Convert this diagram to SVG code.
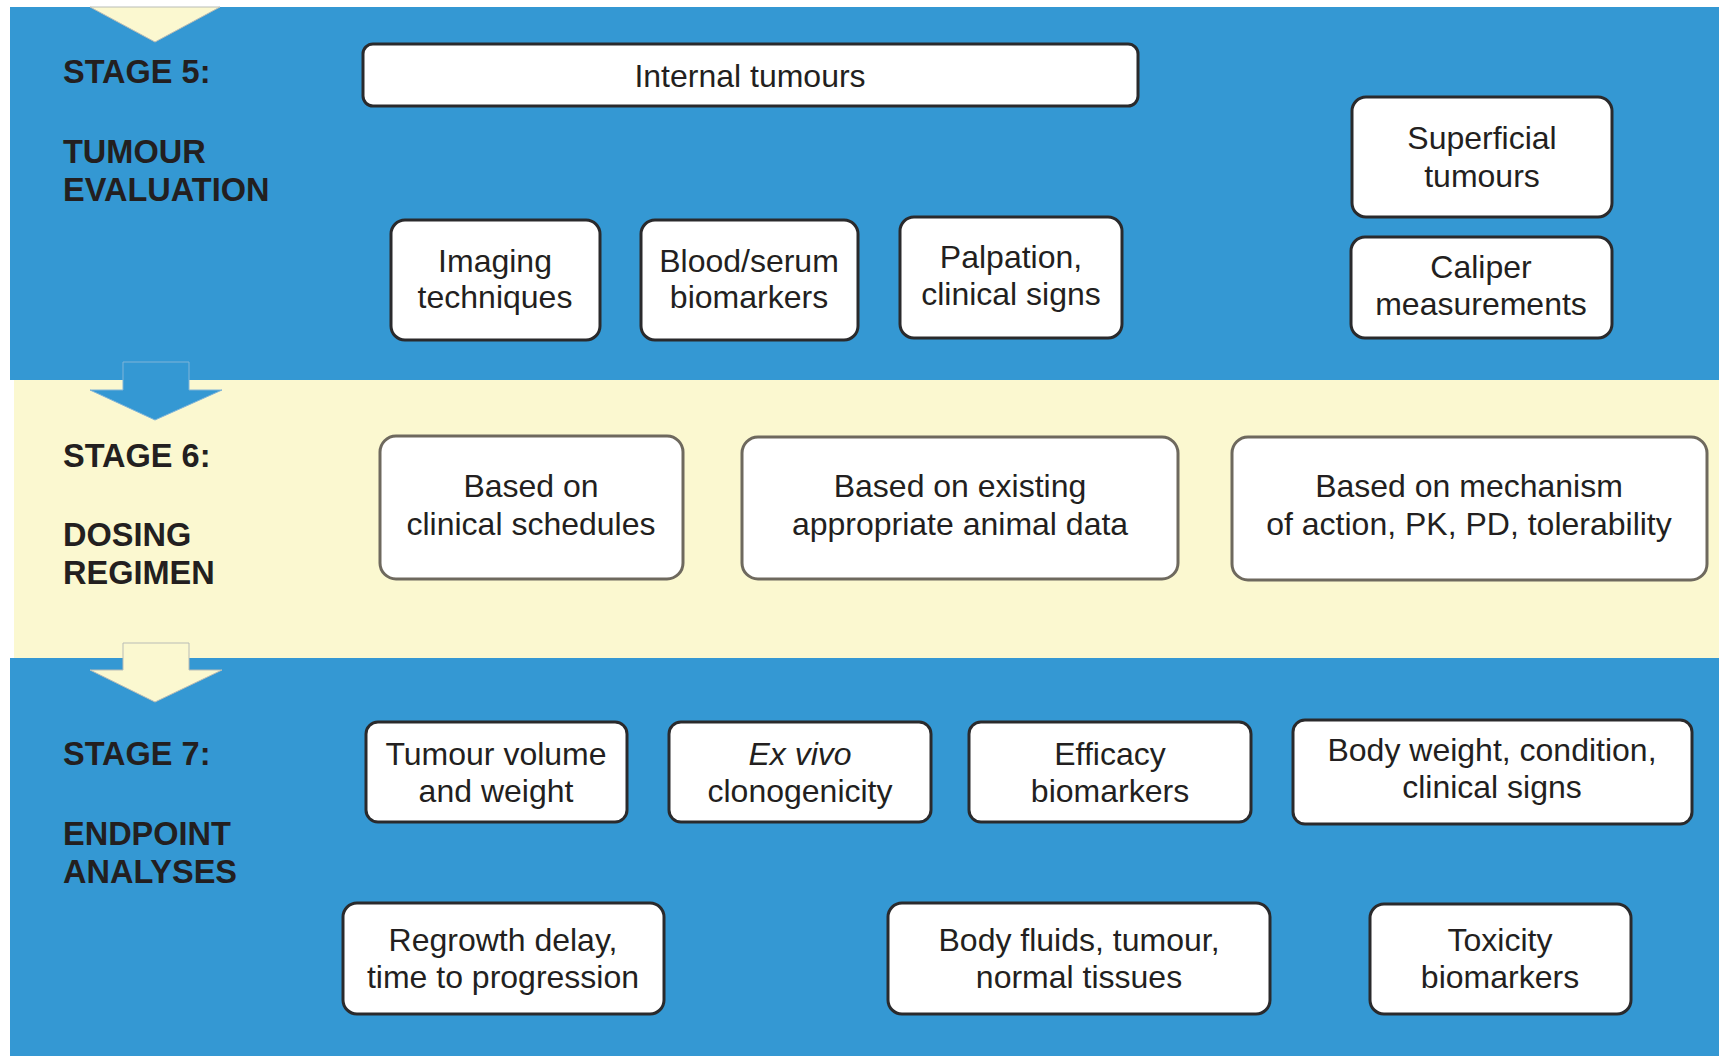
<svg xmlns="http://www.w3.org/2000/svg" width="1719" height="1056" viewBox="0 0 1719 1056">
<style>
.band-b{fill:#3498d3}
.band-y{fill:#fbf8d0}
.box{fill:#ffffff;stroke:#2a2a2c;stroke-width:3}
.boxy{fill:#ffffff;stroke:#6e695e;stroke-width:3}
.lbl{font-family:"Liberation Sans",Arial,sans-serif;font-size:32px;fill:#231f20;text-anchor:middle}
.stage{font-family:"Liberation Sans",Arial,sans-serif;font-size:32.5px;font-weight:bold;fill:#231f20}
.arr-y{fill:#fbf8d0;stroke:#b9bcb6;stroke-width:1}
.arr-b{fill:#3498d3;stroke:#7fb4d8;stroke-width:1}
</style>
<rect x="0" y="0" width="1719" height="1056" fill="#ffffff"/>
<rect class="band-b" x="10" y="7" width="1709" height="373"/>
<rect class="band-y" x="14" y="380" width="1705" height="278"/>
<rect class="band-b" x="10" y="658" width="1709" height="398"/>

<g id="connectors">
<polygon class="arr-y" points="90,7 220,7 155,42"/>
<polygon class="arr-b" points="123,362 189,362 189,390 222,390 155,420 90,390 123,390"/>
<polygon class="arr-y" points="123,643 189,643 189,670 222,670 155,702 90,670 123,670"/>
</g>

<g id="stage5-label">
<text class="stage" x="63" y="83">STAGE 5:</text>
<text class="stage" x="63" y="163">TUMOUR</text>
<text class="stage" x="63" y="201">EVALUATION</text>
</g>
<g id="stage6-label">
<text class="stage" x="63" y="467">STAGE 6:</text>
<text class="stage" x="63" y="546">DOSING</text>
<text class="stage" x="63" y="584">REGIMEN</text>
</g>
<g id="stage7-label">
<text class="stage" x="63" y="765">STAGE 7:</text>
<text class="stage" x="63" y="845">ENDPOINT</text>
<text class="stage" x="63" y="883">ANALYSES</text>
</g>

<g id="internal-tumours">
<rect class="box" x="363" y="44" width="775" height="62" rx="10"/>
<text class="lbl" x="750" y="87">Internal tumours</text>
</g>
<g id="imaging">
<rect class="box" x="391" y="220" width="209" height="120" rx="14"/>
<text class="lbl" x="495" y="272">Imaging</text>
<text class="lbl" x="495" y="308">techniques</text>
</g>
<g id="blood-serum">
<rect class="box" x="641" y="220" width="217" height="120" rx="14"/>
<text class="lbl" x="749" y="272">Blood/serum</text>
<text class="lbl" x="749" y="308">biomarkers</text>
</g>
<g id="palpation">
<rect class="box" x="900" y="217" width="222" height="121" rx="14"/>
<text class="lbl" x="1011" y="268">Palpation,</text>
<text class="lbl" x="1011" y="305">clinical signs</text>
</g>
<g id="superficial">
<rect class="box" x="1352" y="97" width="260" height="120" rx="14"/>
<text class="lbl" x="1482" y="149">Superficial</text>
<text class="lbl" x="1482" y="187">tumours</text>
</g>
<g id="caliper">
<rect class="box" x="1351" y="237" width="261" height="101" rx="14"/>
<text class="lbl" x="1481" y="278">Caliper</text>
<text class="lbl" x="1481" y="315">measurements</text>
</g>

<g id="clinical-schedules">
<rect class="boxy" x="380" y="436" width="303" height="143" rx="16"/>
<text class="lbl" x="531" y="497">Based on</text>
<text class="lbl" x="531" y="535">clinical schedules</text>
</g>
<g id="animal-data">
<rect class="boxy" x="742" y="437" width="436" height="142" rx="16"/>
<text class="lbl" x="960" y="497">Based on existing</text>
<text class="lbl" x="960" y="535">appropriate animal data</text>
</g>
<g id="mechanism">
<rect class="boxy" x="1232" y="437" width="475" height="143" rx="16"/>
<text class="lbl" x="1469" y="497">Based on mechanism</text>
<text class="lbl" x="1469" y="535">of action, PK, PD, tolerability</text>
</g>

<g id="tumour-volume">
<rect class="box" x="366" y="722" width="261" height="100" rx="12"/>
<text class="lbl" x="496" y="765">Tumour volume</text>
<text class="lbl" x="496" y="802">and weight</text>
</g>
<g id="ex-vivo">
<rect class="box" x="669" y="722" width="262" height="100" rx="12"/>
<text class="lbl" x="800" y="765" font-style="italic">Ex vivo</text>
<text class="lbl" x="800" y="802">clonogenicity</text>
</g>
<g id="efficacy">
<rect class="box" x="969" y="722" width="282" height="100" rx="12"/>
<text class="lbl" x="1110" y="765">Efficacy</text>
<text class="lbl" x="1110" y="802">biomarkers</text>
</g>
<g id="body-weight">
<rect class="box" x="1293" y="720" width="399" height="104" rx="12"/>
<text class="lbl" x="1492" y="761">Body weight, condition,</text>
<text class="lbl" x="1492" y="798">clinical signs</text>
</g>
<g id="regrowth">
<rect class="box" x="343" y="903" width="321" height="111" rx="14"/>
<text class="lbl" x="503" y="951">Regrowth delay,</text>
<text class="lbl" x="503" y="988">time to progression</text>
</g>
<g id="body-fluids">
<rect class="box" x="888" y="903" width="382" height="111" rx="14"/>
<text class="lbl" x="1079" y="951">Body fluids, tumour,</text>
<text class="lbl" x="1079" y="988">normal tissues</text>
</g>
<g id="toxicity">
<rect class="box" x="1370" y="904" width="261" height="110" rx="14"/>
<text class="lbl" x="1500" y="951">Toxicity</text>
<text class="lbl" x="1500" y="988">biomarkers</text>
</g>
</svg>
